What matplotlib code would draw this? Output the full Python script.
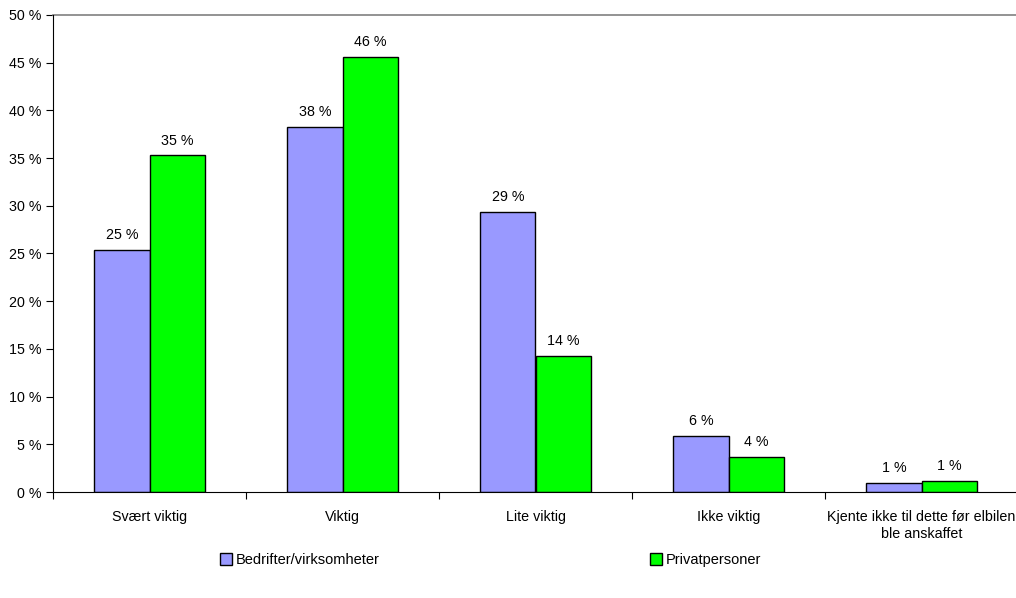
import numpy as np
import matplotlib.pyplot as plt
from matplotlib.patches import Patch

plt.rcParams['font.family'] = ['Liberation Sans', 'DejaVu Sans']

categories = ["Svært viktig", "Viktig", "Lite viktig", "Ikke viktig",
              "Kjente ikke til dette før elbilen\nble anskaffet"]
bedrifter = [25.4, 38.3, 29.4, 5.9, 0.95]
privat = [35.3, 45.6, 14.3, 3.7, 1.15]
series_names = ["Bedrifter/virksomheter", "Privatpersoner"]
colors = ["#9999ff", "#00ff00"]

fs = 10.3

fig = plt.figure(figsize=(10.16, 5.98), dpi=100)
ax = fig.add_axes([53 / 1016, 1 - 492 / 598, 965 / 1016, 477 / 598])

x = np.arange(len(categories))
w = 0.285
b1 = ax.bar(x - w / 2, bedrifter, w, color=colors[0], edgecolor="black", linewidth=1)
b2 = ax.bar(x + w / 2, privat, w, color=colors[1], edgecolor="black", linewidth=1)

for bars, vals in [(b1, bedrifter), (b2, privat)]:
    for rect, v in zip(bars, vals):
        ax.text(rect.get_x() + rect.get_width() / 2, v + 0.8, f"{round(v):.0f} %",
                ha="center", va="bottom", fontsize=fs)

ax.set_xlim(-0.5, len(categories) - 0.5)
ax.set_ylim(0, 50)
ax.set_yticks(range(0, 51, 5))
ax.set_yticklabels([f"{v} %" for v in range(0, 51, 5)], fontsize=fs)
ax.set_xticks(np.arange(len(categories) + 1) - 0.5)
ax.set_xticklabels([])
ax.set_xticks(x, minor=True)
ax.set_xticklabels(categories, minor=True, fontsize=fs, linespacing=1.25)
ax.tick_params(axis="x", which="minor", length=0, pad=13)
ax.tick_params(axis="x", which="major", length=5)
ax.tick_params(axis="y", length=5)
ax.axhline(50, color="#808080", linewidth=1.2, clip_on=False)

for s in ["top", "right"]:
    ax.spines[s].set_visible(False)

handles = [Patch(facecolor=c, edgecolor="black", label=n) for c, n in zip(colors, series_names)]
for h, xpos in zip(handles, [220, 650]):
    fig.legend(handles=[h], loc="center left", bbox_to_anchor=(xpos / 1016, 1 - 560 / 598),
               frameon=False, fontsize=10.5, handlelength=0.8, handleheight=0.8, handletextpad=0.3,
               borderpad=0, borderaxespad=0)

fig.savefig("out.png", dpi=100)
